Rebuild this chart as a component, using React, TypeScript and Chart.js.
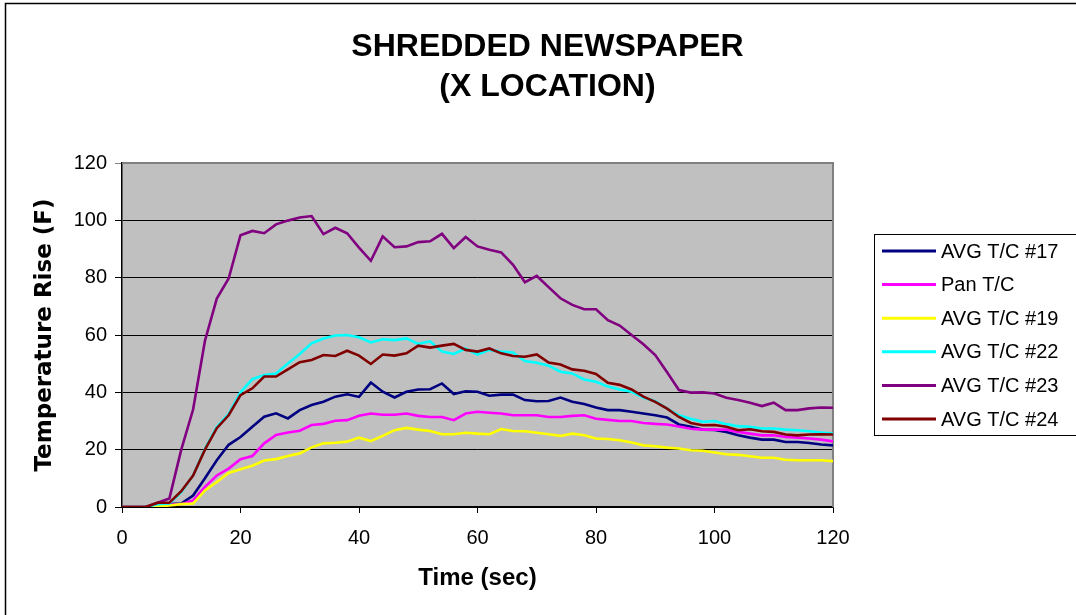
import React, { useEffect, useRef } from "react";
import { Chart, registerables } from "chart.js";

Chart.register(...registerables);

const TITLE_LINES = ["SHREDDED NEWSPAPER", "(X LOCATION)"];
const X_TITLE = "Time (sec)";
const Y_TITLE = "Temperature Rise (F)";

const TIME = [
  0, 2, 4, 6, 8, 10, 12, 14, 16, 18, 20, 22, 24, 26, 28, 30, 32, 34, 36, 38, 40,
  42, 44, 46, 48, 50, 52, 54, 56, 58, 60, 62, 64, 66, 68, 70, 72, 74, 76, 78, 80,
  82, 84, 86, 88, 90, 92, 94, 96, 98, 100, 102, 104, 106, 108, 110, 112, 114, 116, 118, 120,
];

const TC17 = [
  0, 0, 0, 1, 1, 1.2, 4, 10, 16.3, 21.7, 24.4, 28, 31.5, 32.7, 30.9, 33.8, 35.6, 36.7, 38.5, 39.3, 38.4,
  43.4, 40.2, 38.2, 40.2, 41, 41.1, 43.1, 39.4, 40.4, 40.2, 38.8, 39.2, 39.2, 37.3, 36.9, 37, 38.2, 36.7, 35.9, 34.7,
  33.8, 33.8, 33.2, 32.6, 32, 31.2, 28.8, 28, 27, 26.9, 26.2, 25, 24.2, 23.5, 23.5, 22.7, 22.7, 22.3, 21.8, 21.5,
];

const PAN = [
  0, 0, 0, 0.5, 0.8, 1, 2.3, 7, 11, 13.4, 16.7, 17.8, 22.2, 25.1, 26, 26.6, 28.6, 29, 30.1, 30.3, 31.8,
  32.6, 32.2, 32.2, 32.6, 31.8, 31.4, 31.4, 30.3, 32.6, 33.2, 32.9, 32.6, 32, 32, 32, 31.4, 31.4, 31.8, 32, 30.8,
  30.4, 30, 30, 29.3, 29, 28.8, 28.1, 27.3, 27, 27, 27, 26.2, 25.6, 25, 25, 24.4, 24.2, 23.9, 23.5, 22.9,
];

const TC19 = [
  0, 0, 0, 0.3, 0.5, 1, 1.2, 5.8, 8.7, 11.9, 13.2, 14.4, 16.2, 16.7, 17.8, 18.7, 20.8, 22.2, 22.4, 22.8, 24.2,
  23, 24.8, 26.8, 27.6, 27, 26.5, 25.4, 25.4, 25.9, 25.6, 25.4, 27.2, 26.5, 26.4, 25.9, 25.4, 24.8, 25.6, 25, 23.9,
  23.7, 23.3, 22.5, 21.5, 21.2, 20.7, 20.4, 19.8, 19.6, 19, 18.4, 18.2, 17.7, 17.2, 17.2, 16.5, 16.3, 16.3, 16.3, 16,
];

const TC22 = [
  0, 0, 0, 1, 1.2, 5.2, 11, 20.3, 27.9, 32.5, 40, 44.6, 46, 46.6, 50.1, 53.4, 57.1, 58.8, 59.8, 60, 59.2,
  57.4, 58.5, 58.2, 58.8, 56.9, 57.8, 54.2, 53.4, 55.3, 53.2, 54.8, 54.2, 53.9, 50.9, 50.3, 49.3, 47.2, 46.6, 44.5, 43.7,
  42, 41, 40.2, 38.2, 36.9, 34.3, 32, 30.8, 29.7, 30, 28.9, 28.2, 28, 27.4, 27.4, 27, 26.8, 26.4, 26, 25.6,
];

const TC23 = [
  0, 0, 0, 1.5, 3, 20, 34, 58, 72.7, 79.7, 94.8, 96.3, 95.5, 98.6, 99.9, 101, 101.5, 95.2, 97.4, 95.5, 90.5,
  85.9, 94.4, 90.6, 90.9, 92.4, 92.7, 95.3, 90.3, 94.2, 90.9, 89.7, 88.8, 84.5, 78.4, 80.6, 76.7, 72.8, 70.5, 69, 69,
  65.2, 63.3, 60, 56.8, 53, 47, 40.8, 39.9, 40, 39.6, 38.1, 37.3, 36.4, 35.2, 36.4, 33.8, 33.8, 34.4, 34.7, 34.6,
];

const TC24 = [
  0, 0, 0, 1.5, 1.5, 5.5, 11, 20, 27.5, 32, 39, 41.4, 45.5, 45.5, 48, 50.5, 51.3, 53, 52.7, 54.5, 52.8,
  49.9, 53.2, 52.8, 53.6, 56.3, 55.6, 56.3, 56.9, 54.8, 54.2, 55.3, 53.6, 52.7, 52.4, 53.2, 50.4, 49.7, 48, 47.5, 46.4,
  43.3, 42.6, 41, 38.5, 36.7, 34.3, 31.4, 29.3, 28.5, 28.6, 28, 26.8, 27.1, 26.4, 26.2, 25.3, 25, 25.3, 25.4, 25.3,
];

const SERIES_LABELS = ["AVG T/C #17", "Pan T/C", "AVG T/C #19", "AVG T/C #22", "AVG T/C #23", "AVG T/C #24"];
const SERIES_VALUES = [TC17, PAN, TC19, TC22, TC23, TC24];
const SERIES_COLORS = ["#000080", "#FF00FF", "#FFFF00", "#00FFFF", "#800080", "#800000"];

const Y_TICKS = [0, 20, 40, 60, 80, 100, 120];
const X_TICKS = [0, 20, 40, 60, 80, 100, 120];

const FONT = "'Liberation Sans', Arial, Helvetica, sans-serif";
const WIDE_FONT = "'DejaVu Sans', Verdana, sans-serif";

const framePlugin = {
  id: "frame",
  beforeDraw(chart: any) {
    const { ctx, chartArea } = chart;
    ctx.save();
    ctx.fillStyle = "#ffffff";
    ctx.fillRect(0, 0, chart.width, chart.height);
    ctx.strokeStyle = "#000000";
    ctx.lineWidth = 1.5;
    ctx.strokeRect(5.5, 3.5, chart.width + 20, chart.height + 20);
    ctx.fillStyle = "#C0C0C0";
    ctx.fillRect(chartArea.left, chartArea.top, chartArea.right - chartArea.left, chartArea.bottom - chartArea.top);
    ctx.restore();
  },
  beforeDatasetsDraw(chart: any) {
    const { ctx, chartArea } = chart;
    ctx.save();
    ctx.strokeStyle = "#808080";
    ctx.lineWidth = 2;
    ctx.beginPath();
    ctx.moveTo(chartArea.left, chartArea.top);
    ctx.lineTo(chartArea.right, chartArea.top);
    ctx.lineTo(chartArea.right, chartArea.bottom);
    ctx.stroke();
    ctx.restore();
  },
};

const legendPlugin = {
  id: "boxLegend",
  afterDraw(chart: any) {
    const { ctx } = chart;
    const datasets = chart.data.datasets;
    const left = 874.5;
    const top = 234.5;
    const rowH = 33.6;
    const height = 201;
    ctx.save();
    ctx.strokeStyle = "#000000";
    ctx.lineWidth = 1;
    ctx.strokeRect(left, top, 400, height);
    ctx.font = `20px ${FONT}`;
    ctx.textBaseline = "middle";
    ctx.textAlign = "left";
    datasets.forEach((ds: any, i: number) => {
      const y = 251 + i * rowH;
      ctx.strokeStyle = ds.borderColor;
      ctx.lineWidth = 3;
      ctx.beginPath();
      ctx.moveTo(882, y);
      ctx.lineTo(936, y);
      ctx.stroke();
      ctx.fillStyle = "#000000";
      ctx.fillText(ds.label, 941, y + 1);
    });
    ctx.restore();
  },
};

export default function App() {
  const ref = useRef<HTMLCanvasElement | null>(null);

  useEffect(() => {
    if (!ref.current) return;
    Chart.defaults.font.family = FONT;
    const datasets = SERIES_LABELS.map((label, i) => ({
      label,
      data: TIME.map((t, j) => ({ x: t, y: SERIES_VALUES[i][j] })),
      borderColor: SERIES_COLORS[i],
      backgroundColor: SERIES_COLORS[i],
      borderWidth: 2.6,
      pointRadius: 0,
      tension: 0,
      fill: false,
      order: SERIES_LABELS.length - i,
    }));

    const chart = new Chart(ref.current, {
      type: "line",
      data: { datasets },
      options: {
        animation: false,
        responsive: false,
        maintainAspectRatio: false,
        layout: { padding: { left: 19, right: 0, top: 4, bottom: 0 } },
        plugins: {
          legend: { display: false },
          tooltip: { enabled: false },
          title: {
            display: true,
            text: TITLE_LINES,
            color: "#000000",
            font: { size: 32, weight: "bold", lineHeight: 1.25 },
            padding: { top: 23, bottom: 56 },
          },
        },
        scales: {
          x: {
            type: "linear",
            min: 0,
            max: 120,
            afterBuildTicks(scale: any) {
              scale.ticks = X_TICKS.map((v) => ({ value: v }));
            },
            afterFit(scale: any) {
              scale.height = 108;
            },
            ticks: { color: "#000000", font: { size: 20 }, padding: 13, maxRotation: 0 },
            grid: { drawOnChartArea: false, drawTicks: true, tickLength: 6, color: "#000000" },
            border: { display: true, color: "#000000", width: 1.5 },
            title: {
              display: true,
              text: X_TITLE,
              color: "#000000",
              font: { size: 24, weight: "bold" },
              padding: { top: 0, bottom: 22 },
            },
          },
          y: {
            type: "linear",
            min: 0,
            max: 120,
            afterBuildTicks(scale: any) {
              scale.ticks = Y_TICKS.map((v) => ({ value: v }));
            },
            afterFit(scale: any) {
              scale.width = 103;
            },
            ticks: { color: "#000000", font: { size: 20 }, padding: 8 },
            grid: {
              color: (c: any) => (c.tick && c.tick.value === 120 ? "#808080" : "#000000"),
              lineWidth: 1,
              drawTicks: true,
              tickLength: 7,
            },
            border: { display: true, color: "#000000", width: 1.5 },
            title: {
              display: true,
              text: Y_TITLE,
              color: "#000000",
              font: { size: 23, weight: "bold", family: WIDE_FONT },
              padding: { top: 12, bottom: 0 },
            },
          },
          yRight: {
            type: "linear",
            position: "right",
            min: 0,
            max: 120,
            afterFit(scale: any) {
              scale.width = 243;
            },
            ticks: { display: false },
            grid: { display: false },
            border: { display: false },
          },
        },
      },
      plugins: [framePlugin, legendPlugin],
    } as any);

    return () => chart.destroy();
  }, []);

  return (
    <div style={{ position: "fixed", left: 0, top: 0, width: 1076, height: 615, background: "#ffffff" }}>
      <canvas ref={ref} width={1076} height={615} style={{ display: "block", width: 1076, height: 615 }} />
    </div>
  );
}
